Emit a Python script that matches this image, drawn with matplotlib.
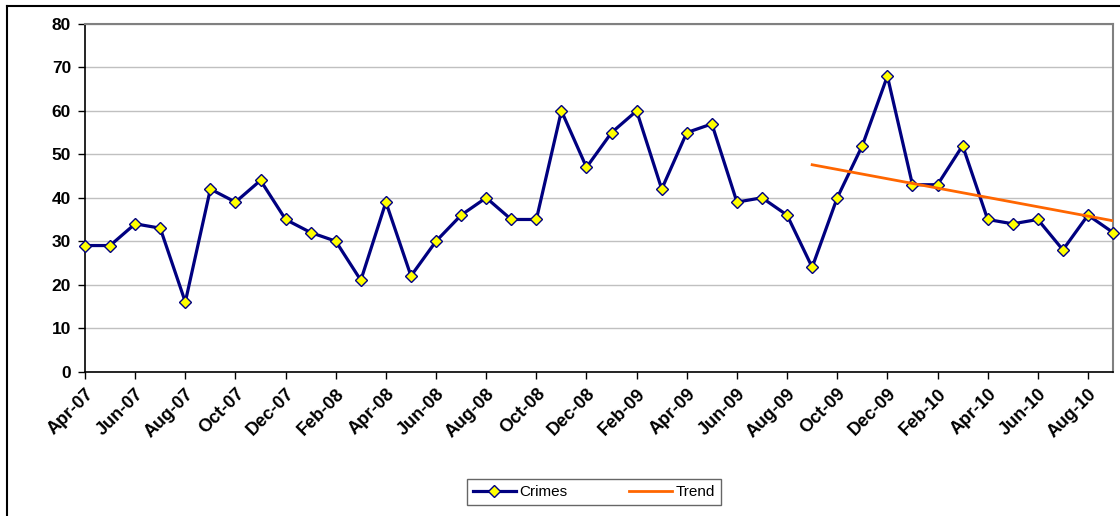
import matplotlib
matplotlib.use("Agg")
import matplotlib.pyplot as plt
from matplotlib.lines import Line2D

plt.rcParams['font.family'] = ['Liberation Sans', 'DejaVu Sans']

# Monthly data, Apr-07 .. Sep-10
months = ["Apr-07", "May-07", "Jun-07", "Jul-07", "Aug-07", "Sep-07", "Oct-07", "Nov-07",
          "Dec-07", "Jan-08", "Feb-08", "Mar-08", "Apr-08", "May-08", "Jun-08", "Jul-08",
          "Aug-08", "Sep-08", "Oct-08", "Nov-08", "Dec-08", "Jan-09", "Feb-09", "Mar-09",
          "Apr-09", "May-09", "Jun-09", "Jul-09", "Aug-09", "Sep-09", "Oct-09", "Nov-09",
          "Dec-09", "Jan-10", "Feb-10", "Mar-10", "Apr-10", "May-10", "Jun-10", "Jul-10",
          "Aug-10", "Sep-10"]
crimes = [29, 29, 34, 33, 16, 42, 39, 44,
          35, 32, 30, 21, 39, 22, 30, 36,
          40, 35, 35, 60, 47, 55, 60, 42,
          55, 57, 39, 40, 36, 24, 40, 52,
          68, 43, 43, 52, 35, 34, 35, 28,
          36, 32]

# Trend line end points
trend_months = ["Sep-09", "Sep-10"]
trend_vals = [47.6, 34.7]

y_ticks = [0, 10, 20, 30, 40, 50, 60, 70, 80]

fig = plt.figure(figsize=(11.2, 5.16), dpi=100)
ax = fig.add_axes([0.0759, 0.280, 0.9179, 0.6735])

x = list(range(len(months)))
tx = [months.index(m) for m in trend_months]

ax.plot(x, crimes, color="#000080", lw=2.3, marker="D", markersize=6,
        markerfacecolor="#FFFF00", markeredgecolor="#000080", markeredgewidth=1.0,
        zorder=3, clip_on=False)
ax.plot(tx, trend_vals, color="#FF6600", lw=2.0, zorder=4)

ax.set_xlim(0, len(months) - 1)
ax.set_ylim(0, 80)
ax.set_yticks(y_ticks)
ax.set_yticklabels([str(v) for v in y_ticks], fontsize=12.5, fontweight="bold")
ax.set_xticks(x[::2])
ax.set_xticklabels(months[::2], rotation=45, ha="right", rotation_mode="anchor",
                   fontsize=13, fontweight="bold")
ax.tick_params(axis="both", direction="out", length=5, width=1, color="#000000")
ax.tick_params(axis="x", pad=5)
ax.tick_params(axis="y", pad=5)

ax.yaxis.grid(True, color="#C0C0C0", lw=1)
ax.set_axisbelow(True)
for s in ["left", "bottom"]:
    ax.spines[s].set_color("#000000")
    ax.spines[s].set_linewidth(1.2)
for s in ["top", "right"]:
    ax.spines[s].set_color("#808080")
    ax.spines[s].set_linewidth(1.5)

handles = [
    Line2D([], [], color="#000080", lw=2.3, marker="D", markersize=6,
           markerfacecolor="#FFFF00", markeredgecolor="#000080"),
    Line2D([], [], color="#FF6600", lw=2.0),
]
leg = fig.legend(handles, ["Crimes", "Trend"], loc="center", ncol=2,
                 bbox_to_anchor=(594 / 1120, 1 - 492 / 516), fontsize=11,
                 frameon=True, fancybox=False, edgecolor="#404040",
                 handlelength=2.8, handletextpad=0.25, columnspacing=4.0,
                 borderpad=0.4, borderaxespad=0.0)
leg.get_frame().set_linewidth(1.0)

# outer chart frame (left and top edges visible)
fig.add_artist(Line2D([7 / 1120, 7 / 1120], [0, 1 - 6 / 516], color="#000000", lw=1.5,
                      transform=fig.transFigure))
fig.add_artist(Line2D([7 / 1120, 1], [1 - 6 / 516, 1 - 6 / 516], color="#000000", lw=1.5,
                      transform=fig.transFigure))

fig.savefig("out.png", dpi=100)
